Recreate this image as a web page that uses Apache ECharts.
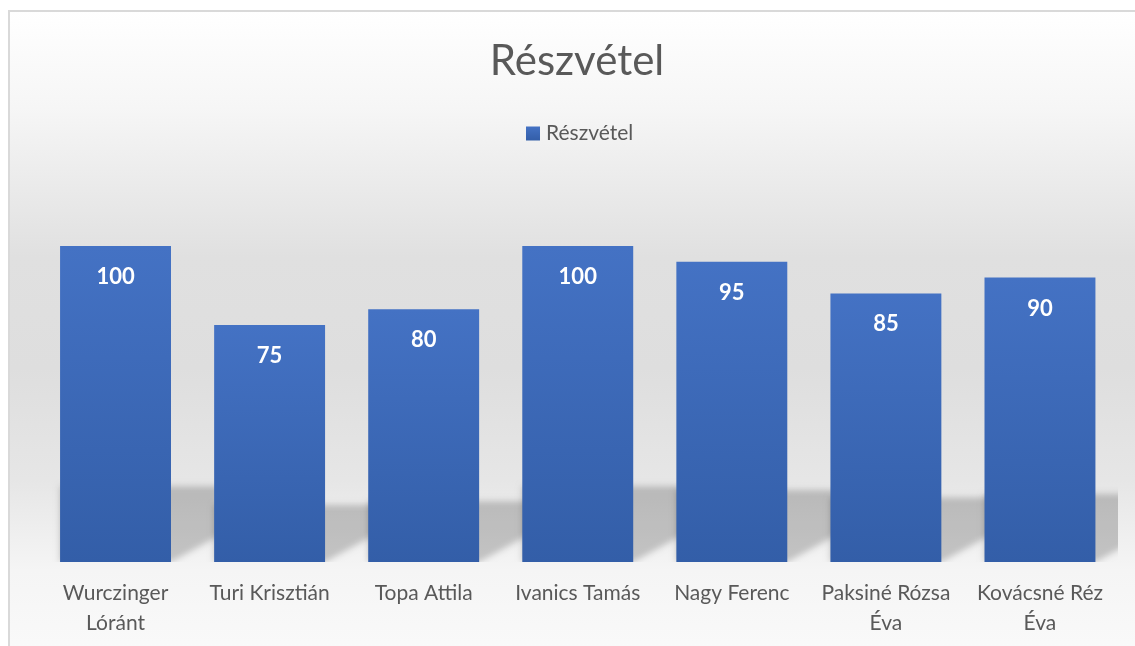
<!DOCTYPE html>
<html>
<head>
<meta charset="utf-8">
<script src="https://cdn.jsdelivr.net/npm/echarts@6/dist/echarts.min.js"></script>
<style>
  html, body { margin: 0; padding: 0; background: #fff; }
  #chart { width: 1135px; height: 646px; }
</style>
</head>
<body>
<div id="chart"></div>
<script>
// chart data
const seriesName = "Részvétel";
const people = [
  "Wurczinger Lóránt",
  "Turi Krisztián",
  "Topa Attila",
  "Ivanics Tamás",
  "Nagy Ferenc",
  "Paksiné Rózsa Éva",
  "Kovácsné Réz Éva",
];
const attendance = [100, 75, 80, 100, 95, 85, 90];

const FONT = "Lato";
const TEXT_GREY = "#595959";
const BAR_RATIO = 0.72; // bar width / category width

const chart = echarts.init(document.getElementById("chart"));

// soft "perspective" shadow behind each bar, drawn only as a canvas shadow
const SHIFT = 3000;
const renderShadow = (params, api) => {
  const base = api.coord([api.value(0), 0]);
  const top = api.coord([api.value(0), api.value(1)]);
  const bw = api.size([1, 0])[0] * BAR_RATIO;
  const xl = base[0] - bw / 2;
  const xr = base[0] + bw / 2;
  const h = (base[1] - top[1]) * 0.24;
  const d = h / 0.55;
  return {
    type: "polygon",
    shape: {
      points: [
        [xl - SHIFT, base[1]],
        [xr - SHIFT, base[1]],
        [xr + d - SHIFT, base[1] - h],
        [xl - SHIFT, base[1] - h],
      ],
    },
    style: {
      fill: "#000",
      shadowColor: "rgba(0,0,0,0.2)",
      shadowBlur: 6,
      shadowOffsetX: SHIFT,
    },
  };
};

// long names wrap before their last word, like the original
const wrapName = (name) =>
  name.length > 14 ? name.replace(/ (\S+)$/, "\n$1") : name;

const option = {
  backgroundColor: "#ffffff",
  animation: false,
  graphic: [
    {
      type: "rect",
      z: -10,
      silent: true,
      shape: { x: 9, y: 11, width: 1140, height: 650 },
      style: {
        stroke: "#d9d9d9",
        lineWidth: 2,
        fill: {
          type: "linear",
          x: 0, y: 0, x2: 0, y2: 1,
          colorStops: [
            { offset: 0, color: "#ffffff" },
            { offset: 0.15, color: "#f6f6f6" },
            { offset: 0.38, color: "#e0e0e0" },
            { offset: 0.55, color: "#dedede" },
            { offset: 0.72, color: "#e6e6e6" },
            { offset: 0.86, color: "#f5f5f5" },
            { offset: 1, color: "#fafafa" },
          ],
        },
      },
    },
  ],
  title: {
    text: seriesName,
    left: 577,
    top: 40,
    padding: 0,
    textAlign: "center",
    textStyle: {
      fontFamily: FONT,
      fontSize: 42,
      fontWeight: "normal",
      color: TEXT_GREY,
    },
  },
  legend: {
    data: [seriesName],
    left: 526,
    top: 123,
    padding: 0,
    itemWidth: 14,
    itemHeight: 14,
    itemGap: 6,
    icon: "rect",
    textStyle: {
      fontFamily: FONT,
      fontSize: 21,
      color: TEXT_GREY,
      padding: [0, 0, 0, 1],
    },
  },
  grid: {
    left: 38.5,
    right: 18,
    top: 246,
    bottom: 84,
    containLabel: false,
  },
  xAxis: {
    type: "category",
    data: people,
    axisLine: { show: false },
    axisTick: { show: false },
    axisLabel: {
      interval: 0,
      margin: 16,
      lineHeight: 30,
      fontFamily: FONT,
      fontSize: 21,
      color: TEXT_GREY,
      formatter: wrapName,
    },
  },
  yAxis: {
    type: "value",
    min: 0,
    max: 100,
    show: false,
  },
  series: [
    {
      type: "custom",
      name: "shadow",
      silent: true,
      clip: true,
      z: 1,
      renderItem: renderShadow,
      data: attendance.map((v, i) => [i, v]),
      encode: { x: 0, y: 1 },
    },
    {
      name: seriesName,
      type: "bar",
      z: 3,
      barCategoryGap: "28%",
      data: attendance,
      itemStyle: {
        color: {
          type: "linear",
          x: 0, y: 0, x2: 0, y2: 1,
          colorStops: [
            { offset: 0, color: "#4472c4" },
            { offset: 1, color: "#335ea8" },
          ],
        },
      },
      label: {
        show: true,
        position: "insideTop",
        distance: 20,
        fontFamily: FONT,
        fontSize: 22,
        fontWeight: "bold",
        color: "#ffffff",
      },
    },
  ],
};

chart.setOption(option);
</script>
</body>
</html>
